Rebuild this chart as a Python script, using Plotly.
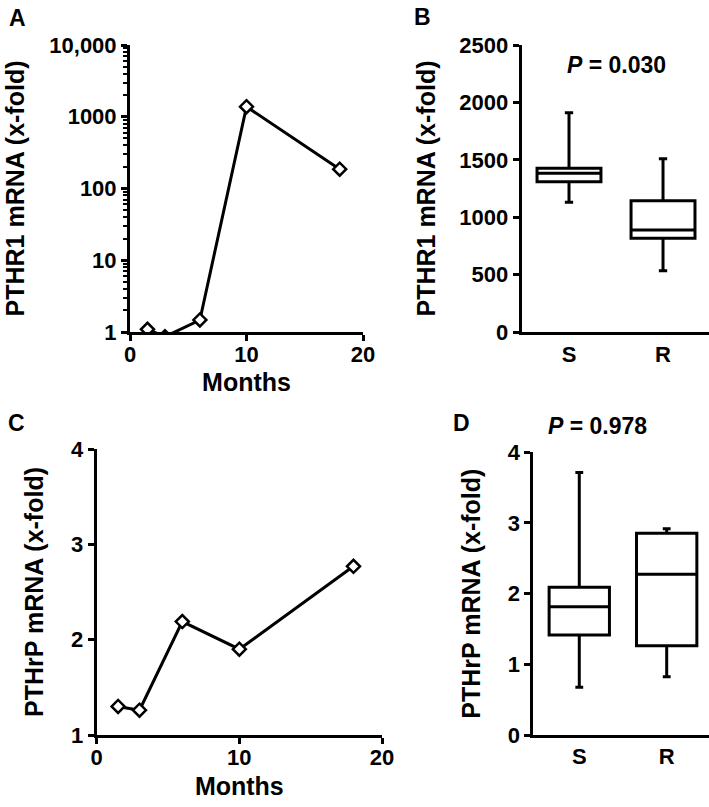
import plotly.graph_objects as go

# ---- data ----
months_a = [1.5, 3, 6, 10, 18]
pthr1_a = [1.09, 0.86, 1.47, 1380, 186]

groups = ["S", "R"]
pthr1_q1 = [1309, 816]
pthr1_median = [1382, 888]
pthr1_q3 = [1426, 1144]
pthr1_low = [1130, 534]
pthr1_high = [1910, 1510]

months_c = [1.5, 3, 6, 10, 18]
pthrp_c = [1.30, 1.26, 2.19, 1.90, 2.77]

pthrp_q1 = [1.415, 1.263]
pthrp_median = [1.815, 2.273]
pthrp_q3 = [2.09, 2.853]
pthrp_low = [0.675, 0.825]
pthrp_high = [3.715, 2.918]

log_label_alias = {"10000": "10,000"}
minor_vals = [m * 10 ** d for d in range(4) for m in range(2, 10)]

W, H = 709, 807
FONT = "Liberation Sans, Arial, sans-serif"
TICK = 22
TITLE = 25

def px_x(p):
    return p / W

def px_y(p):
    return 1 - p / H

fig = go.Figure()

line_style = dict(color="black", width=3)
marker_style = dict(symbol="diamond", size=10, color="white",
                    line=dict(color="black", width=2.5))

fig.add_trace(go.Scatter(x=months_a, y=pthr1_a, mode="lines+markers",
                         line=line_style, marker=marker_style,
                         xaxis="x", yaxis="y", showlegend=False))
fig.add_trace(go.Box(x=groups, q1=pthr1_q1, median=pthr1_median, q3=pthr1_q3,
                     lowerfence=pthr1_low, upperfence=pthr1_high,
                     fillcolor="white", line=dict(color="black", width=3),
                     whiskerwidth=0.13, width=0.68, boxpoints=False,
                     xaxis="x2", yaxis="y2", showlegend=False))
fig.add_trace(go.Scatter(x=months_c, y=pthrp_c, mode="lines+markers",
                         line=line_style, marker=marker_style,
                         xaxis="x3", yaxis="y3", showlegend=False))
fig.add_trace(go.Box(x=groups, q1=pthrp_q1, median=pthrp_median, q3=pthrp_q3,
                     lowerfence=pthrp_low, upperfence=pthrp_high,
                     fillcolor="white", line=dict(color="black", width=3),
                     whiskerwidth=0.13, width=0.69, boxpoints=False,
                     xaxis="x4", yaxis="y4", showlegend=False))

axis_common = dict(showline=True, linecolor="black", linewidth=3, showgrid=False,
                   zeroline=False, ticks="outside", ticklen=6, tickwidth=3,
                   tickcolor="black", tickfont=dict(size=TICK, color="black"),
                   title_font=dict(size=TITLE, color="black"), automargin=False)

fig.update_layout(
    width=W, height=H, margin=dict(l=0, r=0, t=0, b=0, pad=0),
    paper_bgcolor="white", plot_bgcolor="white",
    font=dict(family=FONT, weight="bold", color="black"),
    xaxis=dict(axis_common, domain=[px_x(130), px_x(363)], range=[0, 20],
               tickmode="linear", tick0=0, dtick=10, anchor="y",
               ticklabelstandoff=-5,
               title=dict(text="Months", standoff=8)),
    yaxis=dict(axis_common, domain=[px_y(332), px_y(45)], type="log", range=[0, 4],
               tickmode="linear", tick0=0, dtick=1, exponentformat="none",
               labelalias=log_label_alias, anchor="x",
               minor=dict(tickvals=minor_vals, ticks="outside", ticklen=4,
                          tickwidth=2, tickcolor="black", showgrid=False),
               title=dict(text="PTHR1 mRNA (x-fold)", standoff=18)),
    xaxis2=dict(axis_common, domain=[px_x(521.7), 1.0], range=[-0.503, 1.489],
                ticks="", anchor="y2", type="category", ticklabelstandoff=1),
    yaxis2=dict(axis_common, domain=[px_y(332), px_y(45)], range=[0, 2500],
                dtick=500, anchor="x2",
                title=dict(text="PTHR1 mRNA (x-fold)", standoff=17)),
    xaxis3=dict(axis_common, domain=[px_x(96.7), px_x(382)], range=[0, 20],
                tickmode="linear", tick0=0, dtick=10, anchor="y3",
                ticklabelstandoff=-5,
                title=dict(text="Months", standoff=9)),
    yaxis3=dict(axis_common, domain=[px_y(735), px_y(449)], range=[1, 4],
                dtick=1, anchor="x3",
                title=dict(text="PTHrP mRNA (x-fold)", standoff=21)),
    xaxis4=dict(axis_common, domain=[px_x(533.3), 1.0], range=[-0.526, 1.484],
                ticks="", anchor="y4", type="category", ticklabelstandoff=0),
    yaxis4=dict(axis_common, domain=[px_y(735), px_y(452.3)], range=[0, 4],
                dtick=1, anchor="x4",
                title=dict(text="PTHrP mRNA (x-fold)", standoff=20)),
)

annotations = [
    dict(text="A", x=px_x(7), y=px_y(18)),
    dict(text="B", x=px_x(412), y=px_y(17)),
    dict(text="C", x=px_x(6), y=px_y(423)),
    dict(text="D", x=px_x(451), y=px_y(423)),
]
for a in annotations:
    fig.add_annotation(xref="paper", yref="paper", xanchor="left", yanchor="middle",
                       showarrow=False, font=dict(size=23, color="black"), **a)

fig.add_annotation(text="<i>P</i> = 0.030", xref="paper", yref="paper",
                   x=px_x(616), y=px_y(65), xanchor="center", yanchor="middle",
                   showarrow=False, font=dict(size=23, color="black"))
fig.add_annotation(text="<i>P</i> = 0.978", xref="paper", yref="paper",
                   x=px_x(597), y=px_y(426), xanchor="center", yanchor="middle",
                   showarrow=False, font=dict(size=23, color="black"))

fig.write_html("out.html", config={"displayModeBar": False},
               post_script="document.body.style.margin='0';document.body.style.padding='0';")
